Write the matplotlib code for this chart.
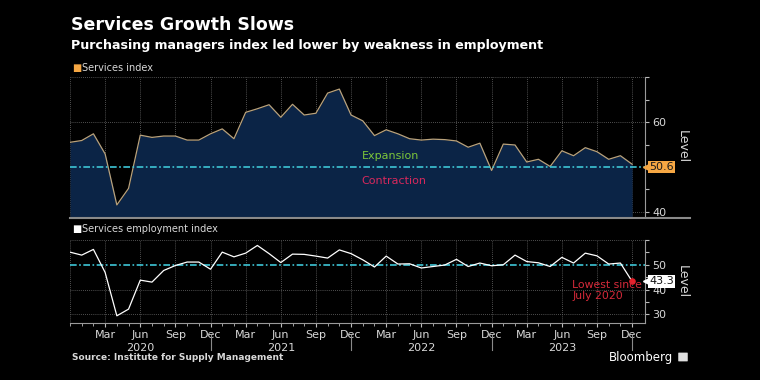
import numpy as np
import matplotlib.pyplot as plt
from matplotlib.lines import Line2D
from matplotlib.patches import FancyBboxPatch

# Monthly readings, Dec 2019 .. Dec 2023
services = [55.5, 55.9, 57.4, 52.9, 41.5, 45.2, 57.1, 56.6, 56.9, 56.9, 56.0, 56.0,
            57.4, 58.5, 56.3, 62.2, 63.0, 63.9, 61.1, 64.0, 61.6, 62.0, 66.5, 67.4,
            61.6, 60.3, 57.0, 58.3, 57.4, 56.3, 56.0, 56.2, 56.1, 55.8, 54.4, 55.3,
            49.2, 55.1, 54.9, 51.1, 51.7, 50.1, 53.6, 52.5, 54.3, 53.4, 51.7, 52.5, 50.6]
employment = [55.1, 53.9, 56.2, 46.9, 29.4, 32.1, 43.8, 43.0, 47.7, 49.7, 51.1, 51.1,
              48.2, 55.1, 53.2, 54.7, 57.8, 54.5, 50.9, 54.3, 54.2, 53.5, 52.7, 56.0,
              54.5, 52.0, 49.1, 53.5, 50.3, 50.4, 48.7, 49.3, 49.9, 52.2, 49.3, 50.7,
              49.6, 50.0, 53.9, 51.3, 50.8, 49.3, 53.0, 50.7, 54.7, 53.6, 50.3, 50.7, 43.3]
month_ticks = ["Mar", "Jun", "Sep", "Dec"]
years = ["2020", "2021", "2022", "2023"]

x = np.arange(len(services))
W, H = 760, 380
BG = "black"
GRID = "#6a6a6a"
TXT = "#d8d8d8"
CYAN = "#3ec6d6"

def box(l, t, r, b):
    return [l / W, 1 - b / H, (r - l) / W, (b - t) / H]

fig = plt.figure(figsize=(W / 100, H / 100), dpi=100, facecolor=BG)
ax1 = fig.add_axes(box(70, 77, 645, 217))
ax2 = fig.add_axes(box(70, 240, 645, 323))

xmax = 49.1
qtr = np.arange(0, len(x) + 1, 3)

for ax in (ax1, ax2):
    ax.set_facecolor(BG)
    ax.set_xlim(0, xmax)
    for s in ("top", "left"):
        ax.spines[s].set_visible(False)
    ax.spines["right"].set_color("#9a9a9a")
    ax.spines["bottom"].set_color("#9a9a9a")
    ax.yaxis.tick_right()
    ax.yaxis.set_label_position("right")
    ax.tick_params(axis="y", colors="#bbbbbb", labelcolor=TXT, labelsize=8,
                   length=3, width=0.8, pad=2)
    ax.tick_params(axis="y", which="minor", colors="#bbbbbb", length=3, width=0.8)
    for q in qtr:
        ax.axvline(q, color=GRID, lw=0.6, ls=(0, (1, 1.5)), zorder=1)
    ax.axhline(50, color=CYAN, lw=1.2, ls=(0, (4, 1.5, 1, 1.5)), zorder=4)
    ax.set_ylabel("Level", color=TXT, fontsize=9, rotation=270, labelpad=16)

# top panel
ax1.set_ylim(38.8, 70.1)
ax1.set_yticks([40, 60])
ax1.set_yticks([45, 55, 65, 70], minor=True)
for yv in (40, 60, 70):
    ax1.axhline(yv, color=GRID, lw=0.6, ls=(0, (1, 1.5)), zorder=1)
ax1.fill_between(x, services, 38.8, color="#0b2446", zorder=2, lw=0)
ax1.plot(x, services, color="#b9a27c", lw=0.9, zorder=3)
ax1.set_xticks([])
ax1.spines["bottom"].set_visible(False)
ax1.text(24.9, 52.5, "Expansion", color="#7cc63a", fontsize=8, va="center")
ax1.text(24.9, 46.8, "Contraction", color="#d8285c", fontsize=8, va="center")
ax1.plot([1.002], [50], marker="<", ms=5, color="#f6a743", transform=ax1.get_yaxis_transform(),
         clip_on=False, zorder=6)
ax1.text(1.007, 50, "50.6", transform=ax1.get_yaxis_transform(), color="#1a1a1a",
         fontsize=8, va="center", ha="left", zorder=6,
         bbox=dict(boxstyle="square,pad=0.12", fc="#f6a743", ec="none"))
fig.add_artist(Line2D([70 / W, 690 / W], [1 - 218.5 / H] * 2, color="#8a8a8a", lw=1.5))

# bottom panel
ax2.set_ylim(26.5, 60)
ax2.set_yticks([30, 40, 50])
ax2.set_yticks([35, 45, 55, 60], minor=True)
for yv in (30, 40, 60):
    ax2.axhline(yv, color=GRID, lw=0.6, ls=(0, (1, 1.5)), zorder=1)
ax2.plot(x, employment, color="white", lw=0.9, zorder=5)
ax2.scatter([x[-1]], [employment[-1]], s=14, color="#e8202a", zorder=6)
ax2.plot([1.002], [employment[-1]], marker="<", ms=5, color="white",
         transform=ax2.get_yaxis_transform(), clip_on=False, zorder=6)
ax2.text(1.007, employment[-1], "43.3", transform=ax2.get_yaxis_transform(),
         color="#111111", fontsize=8, va="center", ha="left", zorder=6,
         bbox=dict(boxstyle="square,pad=0.12", fc="white", ec="none"))
ax2.text(42.9, 39.6, "Lowest since\nJuly 2020", color="#d62a3a", fontsize=7.8,
         va="center", ha="left", linespacing=1.15, zorder=7)

maj = [i for i in range(3, len(x), 3)]
ax2.set_xticks(maj)
ax2.set_xticklabels([month_ticks[(i // 3 - 1) % 4] for i in maj])
ax2.set_xticks(np.arange(0, len(x)), minor=True)
ax2.tick_params(axis="x", colors="#bbbbbb", labelcolor=TXT, labelsize=8,
                length=3, width=0.8, pad=2)
ax2.tick_params(axis="x", which="minor", colors="#bbbbbb", length=2, width=0.6)
for k, yr in enumerate(years):
    ax2.text(6 + 12 * k, -0.30, yr, transform=ax2.get_xaxis_transform(),
             color=TXT, fontsize=8, ha="center", va="center")
    ax2.plot([12 + 12 * k] * 2, [-0.14, -0.33], transform=ax2.get_xaxis_transform(),
             color="#8a8a8a", lw=0.8, clip_on=False)

# legends
fig.text(72 / W, 1 - 68 / H, "\u25a0", color="#f6a743", fontsize=7, va="center")
fig.text(82 / W, 1 - 68 / H, "Services index", color=TXT, fontsize=7, va="center")
fig.text(72 / W, 1 - 229 / H, "\u25a0", color="white", fontsize=7, va="center")
fig.text(82 / W, 1 - 229 / H, "Services employment index", color=TXT, fontsize=7, va="center")

# titles and footer
fig.text(71 / W, 1 - 25 / H, "Services Growth Slows", color="white", fontsize=12.5,
         fontweight="bold", va="center")
fig.text(71 / W, 1 - 46 / H, "Purchasing managers index led lower by weakness in employment",
         color="white", fontsize=9.1, fontweight="bold", va="center")
fig.text(72 / W, 1 - 357 / H, "Source: Institute for Supply Management", color=TXT,
         fontsize=6.5, fontweight="bold", va="center")
fig.text(673 / W, 1 - 357 / H, "Bloomberg", color="white", fontsize=8.5,
         va="center", ha="right")
fig.add_artist(FancyBboxPatch((679 / W, 1 - 361 / H), 8 / W, 8 / H,
                              boxstyle="round,pad=0.001", fc="#e0e0e0", ec="none",
                              transform=fig.transFigure))

fig.savefig("out.png", dpi=100, facecolor=BG)
